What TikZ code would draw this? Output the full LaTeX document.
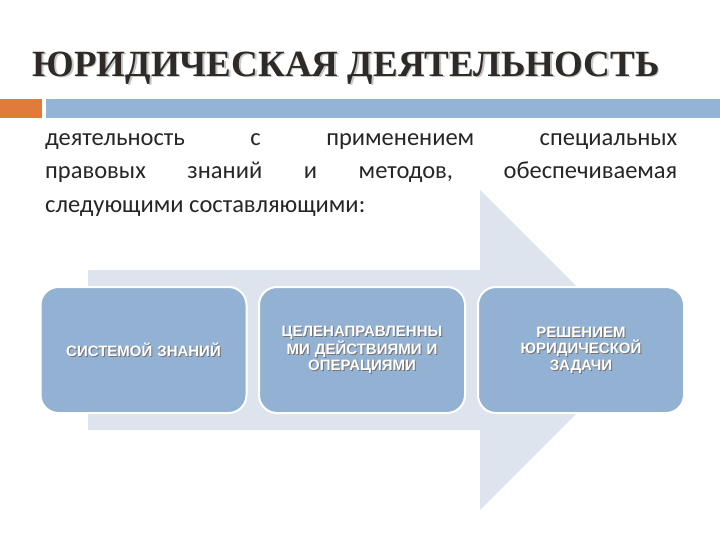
\documentclass[tikz,border=0pt]{standalone}
\usepackage{fontspec}
\setmainfont{Carlito}
\newfontfamily\titlefont{Liberation Serif}
\newfontfamily\boxfont{Liberation Sans}
\definecolor{arrowc}{HTML}{DDE4EE}
\definecolor{boxc}{HTML}{93B2D3}
\definecolor{barc}{HTML}{93B4D6}
\definecolor{orangec}{HTML}{E07B3A}
\definecolor{titlec}{HTML}{2E2A28}
\definecolor{textc}{HTML}{262626}
\begin{document}
\begin{tikzpicture}[x=1pt,y=-1pt,
  stepbox/.style={draw=white,line width=2pt,fill=boxc,rounded corners=18pt,minimum width=206pt,minimum height=126pt,inner sep=0pt},
  boxtxt/.style={text=white,font=\boxfont\bfseries\fontsize{15}{16.5}\selectfont,align=center,text width=200pt}]
\useasboundingbox (0,0) rectangle (720,540);
% title
\node[text=gray!45,font=\titlefont\bfseries\fontsize{37}{40}\selectfont,anchor=west] at (30.5,69.5) {ЮРИДИЧЕСКАЯ ДЕЯТЕЛЬНОСТЬ};
\node[text=titlec,font=\titlefont\bfseries\fontsize{37}{40}\selectfont,anchor=west] (title) at (29,68) {ЮРИДИЧЕСКАЯ ДЕЯТЕЛЬНОСТЬ};
\fill[orangec] (0,99) rectangle (42,118);
\fill[barc] (46,99) rectangle (720,118);
% body text
\node[anchor=north west,text=textc,text width=632pt,align=justify,font=\fontsize{24.5}{33.5}\selectfont,inner sep=0pt] (body) at (45,133)
{деятельность с применением специальных\linebreak правовых знаний и методов, обеспечиваемая\linebreak следующими составляющими:};
% arrow
\fill[arrowc] (88,270) -- (480,270) -- (480,190) -- (640,350) -- (480,510) -- (480,430) -- (88,430) -- cycle;
% boxes
\node[stepbox] (b1) at (143.5,350) {};
\node[stepbox] (b2) at (362,350) {};
\node[stepbox] (b3) at (581,350) {};
\foreach \n/\t in {b1/{СИСТЕМОЙ ЗНАНИЙ},b2/{ЦЕЛЕНАПРАВЛЕННЫ\\МИ ДЕЙСТВИЯМИ И\\ОПЕРАЦИЯМИ},b3/{РЕШЕНИЕМ\\ЮРИДИЧЕСКОЙ\\ЗАДАЧИ}}{
  \node[boxtxt,text=black!55] at ([shift={(1,1)}]\n) {\t};
  \node[boxtxt] at (\n) {\t};
}
\end{tikzpicture}
\end{document}
